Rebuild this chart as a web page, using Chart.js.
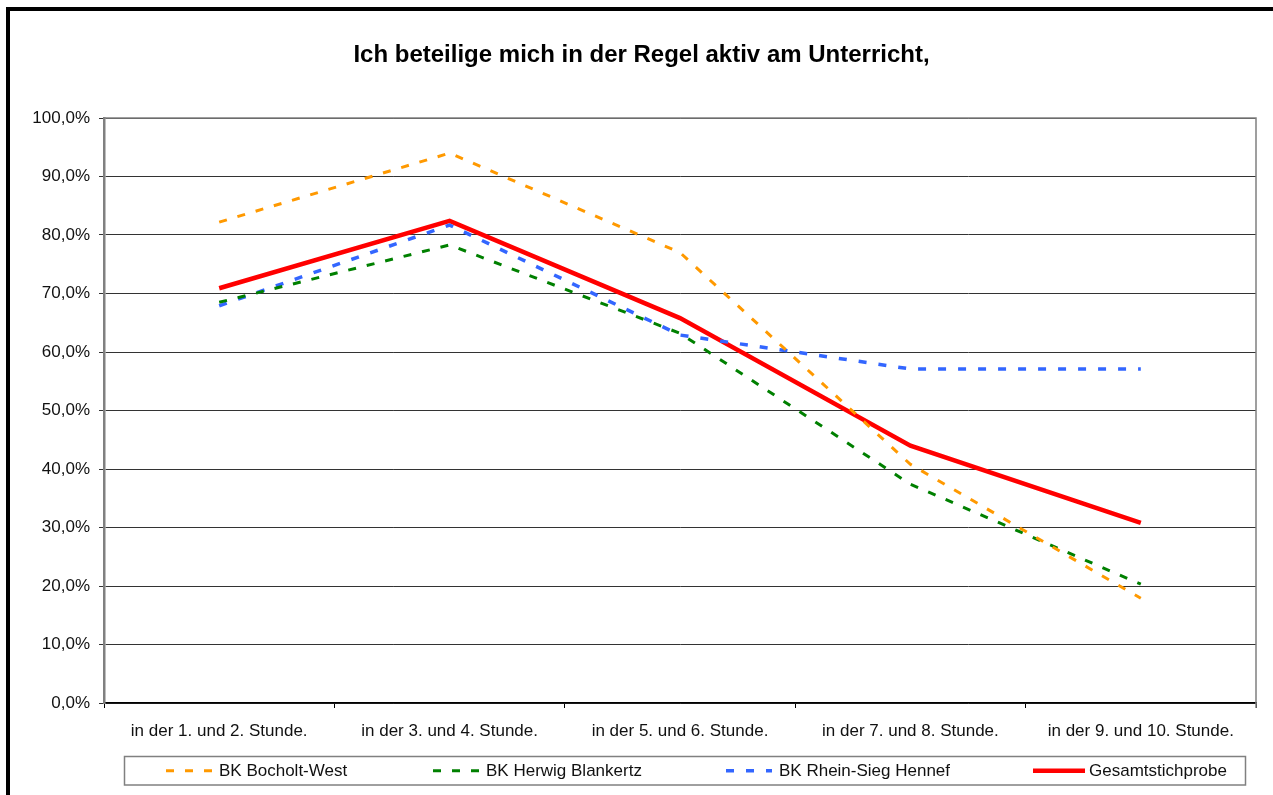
<!DOCTYPE html>
<html>
<head>
<meta charset="utf-8">
<script src="https://cdn.jsdelivr.net/npm/chart.js@4.4.0/dist/chart.umd.min.js"></script>
<style>
  html, body { margin: 0; padding: 0; background: #fff; }
  #wrap { width: 1273px; height: 795px; position: relative; }
</style>
</head>
<body>
<div id="wrap"><canvas id="chart" width="1273" height="795"></canvas></div>
<script>
// --- Daten ---
const categories = [
  "in der 1. und 2. Stunde.",
  "in der 3. und 4. Stunde.",
  "in der 5. und 6. Stunde.",
  "in der 7. und 8. Stunde.",
  "in der 9. und 10. Stunde."
];
const bocholtWest = [82.2, 94.0, 77.0, 40.8, 17.9];
const herwigBlankertz = [68.5, 78.3, 63.2, 37.4, 20.3];
const rheinSiegHennef = [67.9, 81.7, 62.9, 57.1, 57.1];
const gesamt = [70.9, 82.4, 65.8, 44.0, 30.8];

const seriesNames = ["BK Bocholt-West", "BK Herwig Blankertz", "BK Rhein-Sieg Hennef", "Gesamtstichprobe"];
const titleText = "Ich beteilige mich in der Regel aktiv am Unterricht,";

// --- Legende / Rahmen (Layout) ---
const legendBox = { left: 124.5, top: 756.5, right: 1245.5, bottom: 785 };
const legendLineX = [166, 433, 726, 1033];
const legendLineW = [46, 46, 46, 52];
const legendTextX = [219, 486, 779, 1089];

const FONT = "Arial, 'Liberation Sans', sans-serif";

const frameAndLegend = {
  id: "frameAndLegend",
  afterDraw(chart) {
    const ctx = chart.ctx;
    const area = chart.chartArea;
    ctx.save();

    // Rahmen rechts / oben vom Plot
    ctx.strokeStyle = "#808080";
    ctx.lineWidth = 1.5;
    ctx.beginPath();
    ctx.moveTo(area.left, area.top);
    ctx.lineTo(area.right, area.top);
    ctx.lineTo(area.right, area.bottom + 5);
    ctx.stroke();

    // Titel
    ctx.fillStyle = "#000";
    ctx.font = "bold 24px " + FONT;
    ctx.textAlign = "center";
    ctx.textBaseline = "alphabetic";
    ctx.fillText(titleText, 641.5, 62);

    // Legende
    ctx.strokeStyle = "#808080";
    ctx.lineWidth = 1.5;
    ctx.strokeRect(legendBox.left, legendBox.top, legendBox.right - legendBox.left, legendBox.bottom - legendBox.top);

    const midY = (legendBox.top + legendBox.bottom) / 2;
    chart.data.datasets.forEach((ds, i) => {
      ctx.strokeStyle = ds.borderColor;
      ctx.lineWidth = ds.borderWidth;
      ctx.setLineDash(ds.borderDash || []);
      ctx.beginPath();
      ctx.moveTo(legendLineX[i], midY);
      ctx.lineTo(legendLineX[i] + legendLineW[i], midY);
      ctx.stroke();
      ctx.setLineDash([]);
      ctx.fillStyle = "#111";
      ctx.font = "17px " + FONT;
      ctx.textAlign = "left";
      ctx.textBaseline = "middle";
      ctx.fillText(ds.label, legendTextX[i], midY + 1);
    });

    // äußerer schwarzer Rahmen
    ctx.strokeStyle = "#000";
    ctx.lineWidth = 4;
    ctx.beginPath();
    ctx.moveTo(8, 795);
    ctx.lineTo(8, 9);
    ctx.lineTo(1273, 9);
    ctx.stroke();

    ctx.restore();
  }
};

function lineSet(label, data, color, dash, width) {
  return {
    label,
    data,
    borderColor: color,
    backgroundColor: color,
    borderWidth: width,
    borderDash: dash,
    pointRadius: 0,
    tension: 0,
    fill: false
  };
}

new Chart(document.getElementById("chart"), {
  type: "line",
  data: {
    labels: categories,
    datasets: [
      lineSet(seriesNames[0], bocholtWest, "#FF9900", [8, 11], 3),
      lineSet(seriesNames[1], herwigBlankertz, "#008000", [8, 11], 3),
      lineSet(seriesNames[2], rheinSiegHennef, "#3366FF", [8, 12], 3.5),
      lineSet(seriesNames[3], gesamt, "#FF0000", [], 4.5)
    ]
  },
  options: {
    responsive: false,
    animation: false,
    layout: { padding: { left: 10, right: 17, top: 118, bottom: 0 } },
    plugins: { legend: { display: false }, title: { display: false }, tooltip: { enabled: false } },
    scales: {
      x: {
        offset: true,
        grid: { offset: true, drawOnChartArea: false, drawTicks: true, tickLength: 5, color: "#000" },
        border: { color: "#000", width: 1.5 },
        ticks: { color: "#111", font: { family: FONT, size: 17 }, padding: 13, maxRotation: 0, autoSkip: false },
        afterFit(scale) { scale.height = 92; }
      },
      y: {
        min: 0,
        max: 100,
        grid: { color: "#333", lineWidth: 1, tickLength: 5, drawTicks: true },
        border: { color: "#808080", width: 2.5 },
        ticks: {
          stepSize: 10,
          color: "#111",
          padding: 9,
          font: { family: FONT, size: 17 },
          callback: (v) => v.toFixed(1).replace(".", ",") + "%"
        },
        afterFit(scale) { scale.width = 94; }
      }
    }
  },
  plugins: [frameAndLegend]
});
</script>
</body>
</html>
